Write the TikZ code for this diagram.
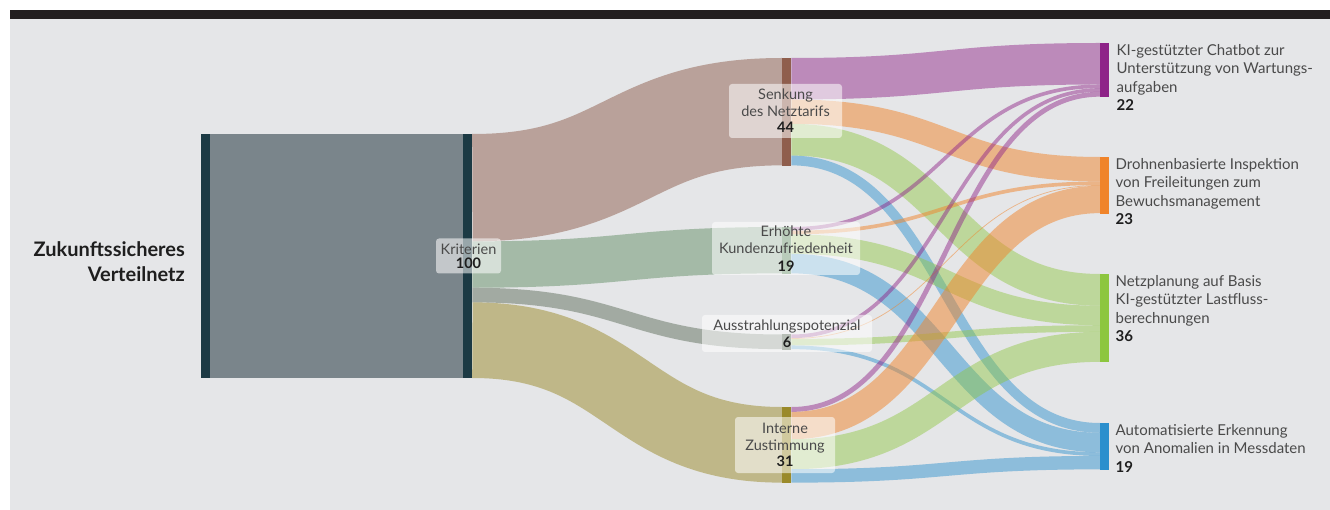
\documentclass[tikz,border=0pt]{standalone}
\usepackage{fontspec}
\setmainfont{Lato}
\usetikzlibrary{calc}
\definecolor{bg}{HTML}{E5E6E8}
\definecolor{topbar}{HTML}{231F20}
\definecolor{zuk}{HTML}{1C3A44}
\definecolor{zukflow}{HTML}{7A858B}
\definecolor{colS}{HTML}{8F5E4D}
\definecolor{colE}{HTML}{659068}
\definecolor{colA}{HTML}{61705E}
\definecolor{colI}{HTML}{9A8A2A}
\definecolor{colC}{HTML}{8E2388}
\definecolor{colD}{HTML}{F0842A}
\definecolor{colN}{HTML}{8DC63F}
\definecolor{colM}{HTML}{2B8FCD}
\definecolor{txt}{HTML}{4A4A4A}
\definecolor{numc}{HTML}{1E1E1E}
\newcommand\pxu{2.44}
\newcommand\numv[1]{{\bfseries\color{numc}#1}}
\newcommand\flowband[7]{%
  \coordinate (fa) at ($(#1.north east)+(0,{(#2+#5/2)*\pxu})$);
  \coordinate (fb) at ($(#3.north west)+(0,{(#4+#5/2)*\pxu})$);
  \coordinate (fm) at ($(fa)!0.5!(fb)$);
  \draw[draw=#6, draw opacity=#7, line width={#5*\pxu}] (fa) .. controls (fm |- fa) and (fm |- fb) .. (fb);
}
\tikzset{
  bar/.style={anchor=north west, inner sep=0pt, minimum width=9, draw=none},
  lbl/.style={fill=white, fill opacity=0.55, text opacity=1, rounded corners=3pt, inner sep=0pt,
    align=center, text=txt, font=\fontsize{14.5}{16.5}\selectfont},
  rlbl/.style={anchor=north west, inner sep=0pt, align=left, text=txt,
    font=\fontsize{15}{18.5}\selectfont},
}
\begin{document}
\begin{tikzpicture}[x=1pt,y=-1pt]
\useasboundingbox (0,0) rectangle (1330,510);
\fill[white] (0,0) rectangle (1330,510);
\fill[bg] (10,19) rectangle (1330,510);
\fill[topbar] (10,10) rectangle (1330,19);

% nodes (bars)
\path
  (201,134) node[bar, fill=zuk, minimum height={100*\pxu}] (Z) {}
  (463,134) node[bar, fill=zuk, minimum height={100*\pxu}] (K) {}
  (782,58) node[bar, fill=colS, minimum height={44*\pxu}] (S) {}
  (782,227) node[bar, fill=colE, minimum height={19*\pxu}] (E) {}
  (782,334.5) node[bar, fill=colA, minimum height={6*\pxu}] (A) {}
  (782,407) node[bar, fill=colI, minimum height={31*\pxu}] (I) {}
  (1100,43) node[bar, fill=colC, minimum height={22*\pxu}] (C) {}
  (1100,157) node[bar, fill=colD, minimum height={23*\pxu}] (D) {}
  (1100,274) node[bar, fill=colN, minimum height={36*\pxu}] (N) {}
  (1100,423) node[bar, fill=colM, minimum height={19*\pxu}] (M) {};

% flows
\fill[zukflow] (Z.north east) rectangle (K.south west);
\flowband{K}{0}{S}{0}{44}{colS}{0.5}
\flowband{K}{44}{E}{0}{19}{colE}{0.5}
\flowband{K}{63}{A}{0}{6}{colA}{0.5}
\flowband{K}{69}{I}{0}{31}{colI}{0.5}
\flowband{S}{0}{C}{0}{17}{colC}{0.47}
\flowband{S}{17}{D}{0}{10}{colD}{0.5}
\flowband{S}{27}{N}{0}{13}{colN}{0.45}
\flowband{S}{40}{M}{0}{4}{colM}{0.47}
\flowband{E}{0}{C}{17}{1.5}{colC}{0.47}
\flowband{E}{1.5}{D}{10}{1.5}{colD}{0.5}
\flowband{E}{3}{N}{13}{8}{colN}{0.45}
\flowband{E}{11}{M}{4}{8}{colM}{0.47}
\flowband{A}{0}{C}{18.5}{1.5}{colC}{0.47}
\flowband{A}{1.5}{D}{11.5}{0.3}{colD}{0.5}
\flowband{A}{1.8}{N}{21}{2.7}{colN}{0.45}
\flowband{A}{4.5}{M}{12}{1.5}{colM}{0.47}
\flowband{I}{0}{C}{20}{2}{colC}{0.47}
\flowband{I}{2}{D}{11.8}{11.2}{colD}{0.5}
\flowband{I}{13.2}{N}{23.7}{12.3}{colN}{0.45}
\flowband{I}{25.5}{M}{13.5}{5.5}{colM}{0.47}

% bars on top of flows
\foreach \n/\c in {Z/zuk,K/zuk,S/colS,E/colE,A/colA,I/colI,C/colC,D/colD,N/colN,M/colM}{
  \fill[\c] (\n.north west) rectangle (\n.south east);
}

% labels of middle nodes
\node[lbl, minimum width=65, minimum height=35, font=\fontsize{14.5}{14}\selectfont] (Klab) at (468.5,256) {Kriterien\\\numv{100}};
\node[lbl, minimum width=113, minimum height=54] (Slab) at (785.5,111) {Senkung\\des Netztarifs\\\numv{44}};
\node[lbl, minimum width=148, minimum height=53, font=\fontsize{14.5}{17.5}\selectfont] (Elab) at (786,248.5) {Erhöhte\\Kundenzufriedenheit\\\numv{19}};
\node[lbl, minimum width=170, minimum height=37] (Alab) at (787,333.5) {Ausstrahlungspotenzial\\\numv{6}};
\node[lbl, minimum width=100, minimum height=56] (Ilab) at (785,445) {Interne\\Zustimmung\\\numv{31}};

% right labels
\node[rlbl] (Clab) at ($(C.north east)+(7,1)$) {KI-gestützter Chatbot zur\\Unterstützung von Wartungs-\\aufgaben\\\numv{22}};
\node[rlbl] (Dlab) at ($(D.north east)+(6,1)$) {Drohnenbasierte Inspektion\\von Freileitungen zum\\Bewuchsmanagement\\\numv{23}};
\node[rlbl] (Nlab) at ($(N.north east)+(6,1)$) {Netzplanung auf Basis\\KI-gestützter Lastfluss-\\berechnungen\\\numv{36}};
\node[rlbl] (Mlab) at ($(M.north east)+(6,1)$) {Automatisierte Erkennung\\von Anomalien in Messdaten\\\numv{19}};

% left title
\node[anchor=north east, inner sep=0pt, align=right, text=numc, font=\fontsize{20}{25}\selectfont\bfseries] (title) at (185,241) {Zukunftssicheres\\Verteilnetz};
\end{tikzpicture}
\end{document}
